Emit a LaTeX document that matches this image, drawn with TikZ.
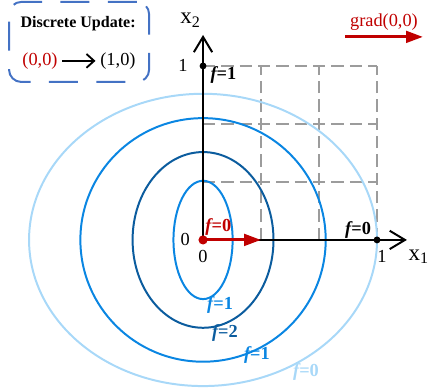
\documentclass[tikz,border=0pt]{standalone}
\usepackage{fontspec}
\setmainfont{Liberation Serif}
\usepackage{xcolor}
\usepackage{tikz}
\usetikzlibrary{positioning, arrows.meta}
\definecolor{boxblue}{HTML}{4472C4}
\definecolor{gradred}{HTML}{C00000}
\definecolor{lvlzero}{HTML}{A8D8F8}
\definecolor{lvlone}{HTML}{0A86E2}
\definecolor{lvltwo}{HTML}{0B5C9E}
\definecolor{gridgray}{HTML}{9C9C9C}

\begin{document}
\begin{tikzpicture}[
    x=4cm, y=4cm,
    txt/.style={font=\fontsize{12}{14}\selectfont, inner sep=1pt},
    axlabel/.style={font=\fontsize{15}{17}\selectfont, inner sep=1pt},
    lvlabel/.style={font=\fontsize{12}{14}\selectfont\bfseries, text=#1, inner sep=1pt},
    lvlabel/.default=black,
    level/.style={line width=1.3pt, draw=#1},
    axis/.style={line width=1.3pt, -{Straight Barb[length=10pt, width=12pt]}},
    gridline/.style={gridgray, line width=1.3pt, dash pattern=on 8pt off 4pt},
    dot/.style={circle, fill=#1, inner sep=0pt, minimum size=4.5pt},
    dot/.default=black,
    gradarrow/.style={gradred, line width=2pt, -{Triangle[length=11pt, width=7.5pt]}},
    updatebox/.style={draw=boxblue, line width=1.3pt, rounded corners=8pt, dash pattern=on 19pt off 12pt},
]
\useasboundingbox (-1.167,-0.856) rectangle (1.293,1.379);

% Update box
\node[updatebox, minimum width=3.22cm, minimum height=1.84cm] (update) at (-0.7125,1.138) {};
\node[txt, font=\fontsize{10.5}{12}\selectfont\bfseries] (title) at (-0.718,1.241) {Discrete Update:};
\node[txt, text=gradred] (from) at (-0.937,1.029) {(0,0)};
\node[txt] (to) at (-0.489,1.029) {(1,0)};
\draw[line width=1.2pt, -{Straight Barb[length=5pt, width=9pt]}, shorten <=2pt, shorten >=2pt] (from) -- (to);

% Gradient legend
\coordinate (gstart) at (0.816,1.167);
\coordinate (gend) at (1.264,1.167);
\draw[gradarrow] (gstart) -- (gend);
\node[txt, text=gradred] (gradlbl) at (1.040,1.250) {grad(0,0)};

% Grid
\foreach \k in {1,2,3} {
    \draw[gridline] (0,\k/3) -- (1,\k/3);
    \draw[gridline] (\k/3,0) -- (\k/3,1);
}

% Level sets
\coordinate (O) at (0,0);
\draw[level=lvlzero] (O) ellipse [x radius=4cm, y radius=3.36cm];
\draw[level=lvlone] (O) ellipse [x radius=2.82cm, y radius=2.8cm];
\draw[level=lvltwo] (O) ellipse [x radius=1.62cm, y radius=2.02cm];
\draw[level=lvlone] (O) ellipse [x radius=0.68cm, y radius=1.36cm];

% Axes
\coordinate (xtip) at (1.172,0);
\coordinate (ytip) at (0,1.178);
\draw[axis] (O) -- (xtip);
\draw[axis] (O) -- (ytip);
\node[axlabel] (xlabel) at (1.240,-0.098) {x\textsubscript{1}};
\node[axlabel] (ylabel) at (-0.072,1.262) {x\textsubscript{2}};

% Update step
\coordinate (step) at (1/3,0);
\draw[gradarrow] (O) -- (step);

% Points
\node[dot=gradred, minimum size=6pt] (p0) at (O) {};
\node[dot] (p1) at (1,0) {};
\node[dot] (p2) at (0,1) {};
\node[txt] (zx) at (-0.103,0) {0};
\node[txt] (zy) at (0,-0.095) {0};
\node[txt] (onex) at (1.029,-0.095) {1};
\node[txt] (oney) at (-0.115,1.004) {1};

% Values
\node[lvlabel=gradred] (v0) at (0.088,0.075) {{\itshape f}=0};
\node[lvlabel] (v1) at (0.891,0.057) {{\itshape f}=0};
\node[lvlabel] (v2) at (0.117,0.948) {{\itshape f}=1};
\node[lvlabel=lvlone] (v3) at (0.098,-0.374) {{\itshape f}=1};
\node[lvlabel=lvltwo] (v4) at (0.126,-0.534) {{\itshape f}=2};
\node[lvlabel=lvlone] (v5) at (0.310,-0.661) {{\itshape f}=1};
\node[lvlabel=lvlzero] (v6) at (0.592,-0.759) {{\itshape f}=0};

\end{tikzpicture}
\end{document}
